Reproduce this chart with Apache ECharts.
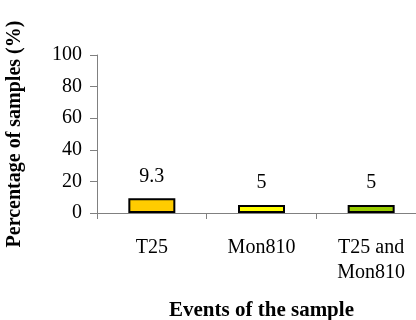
<!DOCTYPE html>
<html>
<head>
<meta charset="utf-8">
<script src="https://cdn.jsdelivr.net/npm/echarts@6/dist/echarts.min.js"></script>
<style>
* { margin: 0; padding: 0; }
html, body { background: #fff; }
#chart-container { width: 416px; height: 320px; }
</style>
</head>
<body>
<div id="chart-container"></div>
<script>
const categories = ['T25', 'Mon810', 'T25 and\nMon810']
const values = [9.3, 5, 5]
const barColors = ['#FFCC00', '#FFFF00', '#99CC00']
const yTicks = [0, 20, 40, 60, 80, 100]

const font = '"Liberation Serif", "Times New Roman", serif'
const axisGrey = '#808080'

const chart = echarts.init(document.getElementById('chart-container'))

chart.setOption({
  animation: false,
  grid: { left: 97, right: -10, top: 55, bottom: 107, outerBoundsMode: 'none' },
  xAxis: {
    type: 'category',
    data: categories,
    name: 'Events of the sample',
    nameLocation: 'middle',
    nameGap: 87,
    nameTextStyle: { fontFamily: font, fontSize: 21, fontWeight: 'bold', color: '#000' },
    axisLine: { lineStyle: { color: axisGrey, width: 1 } },
    axisTick: { show: true, length: 6, lineStyle: { color: axisGrey } },
    axisLabel: {
      margin: 22,
      fontFamily: font,
      fontSize: 20,
      lineHeight: 25,
      color: '#000'
    }
  },
  yAxis: {
    type: 'value',
    min: yTicks[0],
    max: yTicks[yTicks.length - 1],
    interval: 20,
    name: 'Percentage of samples (%)',
    nameLocation: 'middle',
    nameGap: 72,
    nameTextStyle: { fontFamily: font, fontSize: 20, fontWeight: 'bold', color: '#000' },
    splitLine: { show: false },
    axisLine: { show: true, lineStyle: { color: axisGrey, width: 1 } },
    axisTick: { show: true, length: 7, lineStyle: { color: axisGrey } },
    axisLabel: { margin: 15, fontFamily: font, fontSize: 20, color: '#000' }
  },
  series: [
    {
      type: 'bar',
      barWidth: 47,
      data: values.map((v, i) => ({
        value: v,
        itemStyle: { color: barColors[i] }
      })),
      itemStyle: { borderColor: '#000', borderWidth: 2 },
      label: {
        show: true,
        position: 'top',
        distance: 12,
        fontFamily: font,
        fontSize: 20,
        color: '#000'
      }
    }
  ]
})
</script>
</body>
</html>
